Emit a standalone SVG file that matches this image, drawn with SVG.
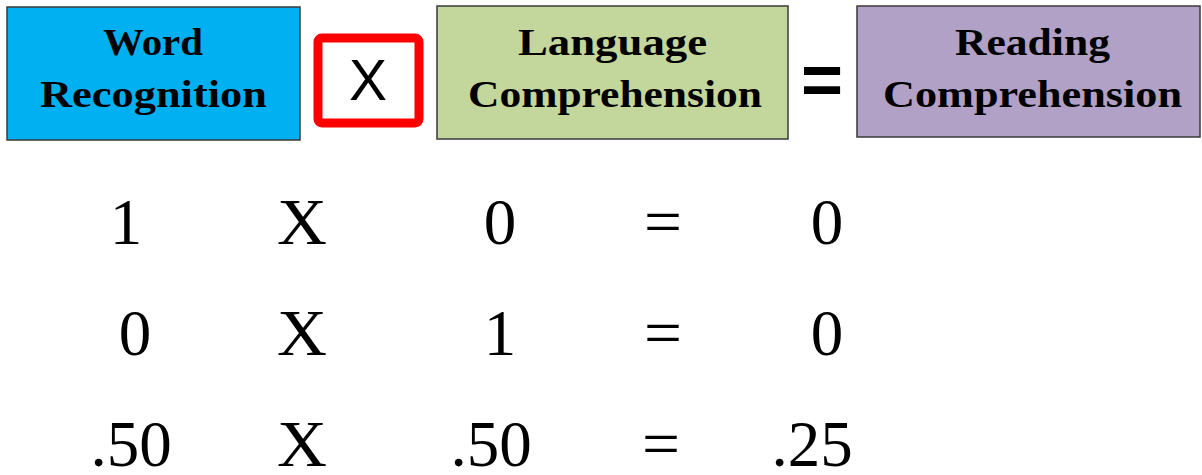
<svg xmlns="http://www.w3.org/2000/svg" width="1202" height="475" viewBox="0 0 1202 475">
<style>
.box{stroke:#3a3a3a;stroke-width:1.5}
.hd{font-family:"Liberation Serif",serif;font-weight:bold;font-size:38px;fill:#000}
.num{font-family:"Liberation Serif",serif;font-size:65px;fill:#000;text-anchor:middle}
</style>
<rect width="1202" height="475" fill="#fff"/>
<g id="word-recognition">
<rect class="box" x="7" y="7" width="293" height="133" fill="#00b0f0"/>
<text class="hd" x="103" y="55" textLength="100" lengthAdjust="spacingAndGlyphs">Word</text>
<text class="hd" x="40" y="107" textLength="227" lengthAdjust="spacingAndGlyphs">Recognition</text>
</g>
<g id="times-box">
<rect x="318" y="38" width="101" height="85" rx="4" fill="#fff" stroke="#ff0000" stroke-width="9"/>
<text x="368" y="100" font-family="Liberation Sans,sans-serif" font-size="57" text-anchor="middle" fill="#000">X</text>
</g>
<g id="language-comprehension">
<rect class="box" x="437" y="6" width="351" height="133" fill="#c3d69b"/>
<text class="hd" x="518" y="55" textLength="189" lengthAdjust="spacingAndGlyphs">Language</text>
<text class="hd" x="468" y="107" textLength="294" lengthAdjust="spacingAndGlyphs">Comprehension</text>
</g>
<g id="equals">
<text x="822" y="104" font-family="Liberation Sans,sans-serif" font-weight="bold" font-size="72" text-anchor="middle" fill="#000">=</text>
</g>
<g id="reading-comprehension">
<rect class="box" x="857" y="6" width="343" height="131" fill="#b2a1c7"/>
<text class="hd" x="955" y="55" textLength="155" lengthAdjust="spacingAndGlyphs">Reading</text>
<text class="hd" x="883" y="107" textLength="299" lengthAdjust="spacingAndGlyphs">Comprehension</text>
</g>
<g id="connectors"></g>
<g id="row1">
<text class="num" x="126" y="244">1</text>
<text class="num" x="302" y="244" textLength="50" lengthAdjust="spacingAndGlyphs">X</text>
<text class="num" x="500" y="244">0</text>
<text class="num" x="663" y="244" textLength="38" lengthAdjust="spacingAndGlyphs">=</text>
<text class="num" x="827" y="244">0</text>
</g>
<g id="row2">
<text class="num" x="135" y="355">0</text>
<text class="num" x="302" y="355" textLength="50" lengthAdjust="spacingAndGlyphs">X</text>
<text class="num" x="500" y="355">1</text>
<text class="num" x="663" y="355" textLength="38" lengthAdjust="spacingAndGlyphs">=</text>
<text class="num" x="827" y="355">0</text>
</g>
<g id="row3">
<text class="num" x="131" y="466">.50</text>
<text class="num" x="302" y="466" textLength="50" lengthAdjust="spacingAndGlyphs">X</text>
<text class="num" x="491" y="466">.50</text>
<text class="num" x="661" y="466" textLength="38" lengthAdjust="spacingAndGlyphs">=</text>
<text class="num" x="812" y="466">.25</text>
</g>
</svg>
